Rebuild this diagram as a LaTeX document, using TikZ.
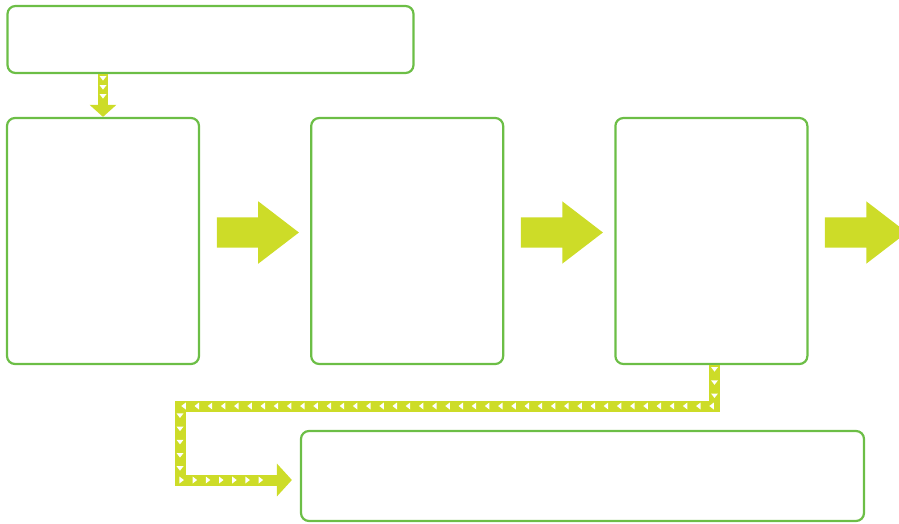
\documentclass[tikz,border=0pt]{standalone}
\usepackage{tikz}
\usetikzlibrary{shapes,shapes.arrows,arrows.meta,decorations.markings,positioning}

\definecolor{boxgreen}{RGB}{108,190,70}
\definecolor{lime}{RGB}{205,220,40}

\begin{document}
\begin{tikzpicture}[x=1pt,y=-1pt,
  box/.style = {draw = boxgreen, line width = 2.2pt, rounded corners = 8pt, inner sep = 0pt},
  bigarrow/.style = {single arrow, fill = lime, inner xsep = 0pt, inner ysep = 15pt, minimum width = 62pt,
    minimum height = 82pt, single arrow head extend = 16pt, single arrow tip angle = 75},
  chain/.style = {draw = lime, line join = miter, postaction = {decorate},
    decoration = {markings, mark = between positions #1 with
      {\fill[white] (2.5pt,0pt) -- (-2pt,3.5pt) -- (-2pt,-3.5pt) -- cycle;}}}
]
\useasboundingbox (0,0) rectangle (899,523);
\clip (0,0) rectangle (899,523);

\node[box, minimum width = 406pt, minimum height = 67pt] (source) at (210.5,39.5) {};
\node[box, minimum width = 192pt, minimum height = 246pt] (stageA) at (103,241) {};
\node[box, minimum width = 192pt, minimum height = 246pt, right = 110pt of stageA] (stageB) {};
\node[box, minimum width = 192pt, minimum height = 246pt, right = 110pt of stageB] (stageC) {};
\node[box, minimum width = 563pt, minimum height = 90pt] (sink) at (582.5,476) {};

\node[bigarrow] (stepA) at (248,232.5) {};
\node[bigarrow] (stepB) at (552,232.5) {};
\node[bigarrow] (stepC) at (856,232.5) {};

\draw[chain = {4pt and -16pt step 9pt}, line width = 10.5pt, -{Triangle[width = 26pt, length = 12pt]}]
  (source.south -| stageA.north) -- (stageA.north);

% back from the last stage down to the bottom box
\coordinate (bendA) at (714.5,406);
\coordinate (bendB) at (180,406);
\coordinate (bendC) at (180,480);
\draw[chain = {4pt and -30pt step 13.2pt}, line width = 11pt, -{Triangle[width = 32pt, length = 15pt]}, shorten > = 8pt]
  (stageC.south -| bendA) -- (bendA) -- (bendB) -- (bendC) -- (sink.west |- bendC);
\end{tikzpicture}
\end{document}
